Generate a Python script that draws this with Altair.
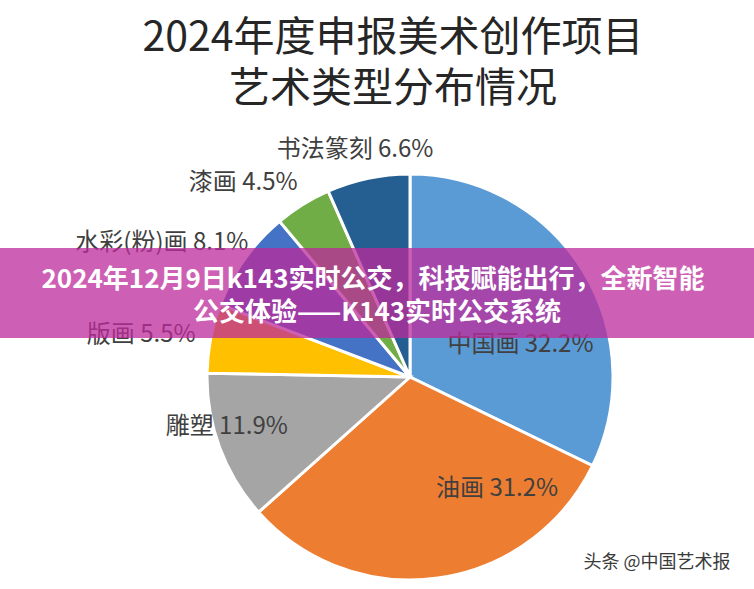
import altair as alt
import pandas as pd

# ---- data ----
categories = ["中国画", "油画", "雕塑", "版画", "水彩(粉)画", "漆画", "书法篆刻"]
shares = [32.2, 31.2, 11.9, 5.5, 8.1, 4.5, 6.6]
colors = ["#5B9BD5", "#ED7D31", "#A5A5A5", "#FFC000", "#4472C4", "#70AD47", "#255E91"]

title_lines = ["2024年度申报美术创作项目", "艺术类型分布情况"]
banner_lines = ["2024年12月9日k143实时公交，科技赋能出行，全新智能", "公交体验——K143实时公交系统"]
watermark = "头条 @中国艺术报"

# ---- label layout (distance from pie centre in px, angular shift from slice middle in degrees) ----
label_radius = [115, 142, 190, 272, 282, 256, 234]
label_shift = [15.9, -29.9, 5.0, -2.1, -7.1, -8.8, -1.7]

W, H = 754, 589
CX, CY, R = 410, 377, 203
FONT = "Noto Sans CJK SC"

df = pd.DataFrame({
    "category": categories,
    "share": shares,
    "order": list(range(len(categories))),
    "lr": label_radius,
    "ls": label_shift,
})
one = pd.DataFrame({"k": [0]})

pie = alt.Chart(df).mark_arc(outerRadius=R, stroke="white", strokeWidth=3).encode(
    theta=alt.Theta("share:Q", stack=True),
    order=alt.Order("order:Q"),
    color=alt.Color("category:N", scale=alt.Scale(domain=categories, range=colors), legend=None),
    x=alt.value(CX),
    y=alt.value(CY),
)

labels = alt.Chart(df).transform_joinaggregate(
    total="sum(share)"
).transform_window(
    cum="sum(share)", sort=[alt.SortField("order")], frame=[None, 0]
).transform_calculate(
    ang="((datum.cum - datum.share/2)/datum.total)*2*PI + datum.ls*PI/180",
    lx=f"{CX} + datum.lr*sin(datum.ang)",
    ly=f"{CY} - datum.lr*cos(datum.ang)",
    label="datum.category + ' ' + format(datum.share, '.1f') + '%'",
).mark_text(font=FONT, fontSize=24, color="#404040", align="center", baseline="middle").encode(
    x=alt.X("lx:Q", scale=None, axis=None),
    y=alt.Y("ly:Q", scale=None, axis=None),
    text="label:N",
)

def txt(s, x, y, size, color, weight="normal"):
    return alt.Chart(one).mark_text(
        text=s, font=FONT, fontSize=size, color=color, fontWeight=weight,
        align="center", baseline="middle"
    ).encode(x=alt.value(x), y=alt.value(y))

title1 = txt(title_lines[0], 393, 39, 41, "#262626")
title2 = txt(title_lines[1], 393, 90, 41, "#262626")

banner = alt.Chart(one).mark_rect(color="#BC2A9B", opacity=0.75).encode(
    x=alt.value(0), x2=alt.value(W), y=alt.value(248), y2=alt.value(338)
)
b1 = txt(banner_lines[0], 373, 280, 26, "white", "bold")
b2 = txt(banner_lines[1], 377, 313, 26, "white", "bold")

wm = txt(watermark, 657, 563, 18, "#3a3a3a")

chart = alt.layer(pie, labels, title1, title2, banner, b1, b2, wm).properties(
    width=W, height=H,
    autosize=alt.AutoSizeParams(type="none"),
    padding=0,
    background="white",
).configure_view(stroke=None)

chart.save("out.html", embed_options={"renderer": "svg", "actions": False})
